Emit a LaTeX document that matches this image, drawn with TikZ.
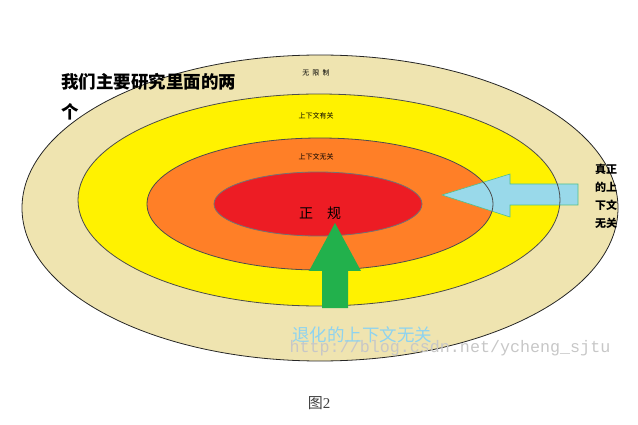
\documentclass[tikz,border=0pt]{standalone}
\usepackage{fontspec}
\setmainfont{Liberation Serif}
\newfontfamily\cjk{Noto Sans CJK SC}
\newfontfamily\wmfont{Liberation Mono}
\usetikzlibrary{calc}
\definecolor{beige}{HTML}{EFE4B0}
\definecolor{ringyellow}{HTML}{FFF200}
\definecolor{ringorange}{HTML}{FF7F27}
\definecolor{ringred}{HTML}{ED1C24}
\definecolor{arrowgreen}{HTML}{22B14C}
\definecolor{arrowblue}{HTML}{99D9EA}
\definecolor{textblue}{HTML}{8ED3F0}
\tikzset{
  ring/.style={draw=black!70, line width=0.8pt},
  ringlabel/.style={font=\cjk\fontsize{7}{8}\selectfont, inner sep=0pt},
}

\begin{document}
\begin{tikzpicture}[x=1pt,y=-1pt]
  \useasboundingbox (0,0) rectangle (638,425);
  \coordinate (c) at (320,208);

  % fills of the four rings
  \fill[beige] (320,208) ellipse (298pt and 153pt);
  \fill[ringyellow] (319,200) ellipse (241pt and 106pt);
  \fill[ringorange] (320,204) ellipse (173pt and 66pt);
  \fill[ringred] (318,204) ellipse (104pt and 32pt);

  % arrow from the right
  \draw[fill=arrowblue, draw=arrowgreen!60!arrowblue, line width=0.6pt]
    (442,195) -- (510,174) -- (510,184) -- (578,184) -- (578,205)
    -- (510,205) -- (510,217) -- cycle;

  \draw[ring, draw=black!85] (320,208) ellipse (298pt and 153pt);
  \draw[ring] (319,200) ellipse (241pt and 106pt);
  \draw[ring] (320,204) ellipse (173pt and 66pt);
  \draw[ring, draw=black!55] (318,204) ellipse (104pt and 32pt);

  % arrow from below
  \fill[arrowgreen] (335,223) -- (361,271) -- (348,271) -- (348,308)
    -- (322,308) -- (322,271) -- (309,271) -- cycle;

  \node[ringlabel] (wxz) at (316,73) {无\ \ 限\ \ 制};
  \node[ringlabel] (cs) at (316,116) {上下文有关};
  \node[ringlabel] (cf) at (316,157) {上下文无关};
  \node[font=\cjk\fontsize{14}{14}\selectfont, inner sep=0pt] (zg) at (320,213) {正\quad 规};

  \node[anchor=west, inner sep=0pt, font=\cjk\bfseries\fontsize{17.5}{18}\selectfont] (title) at (61,82) {我们主要研究里面的两};
  \node[anchor=west, inner sep=0pt, font=\cjk\bfseries\fontsize{17.5}{18}\selectfont] (ge) at (61,112) {个};

  \node[anchor=north west, inner sep=0pt, align=left, font=\cjk\bfseries\fontsize{11}{18}\selectfont] (zz) at (595,164) {真正\\的上\\下文\\无关};

  \node[font=\wmfont\fontsize{16.7}{17}\selectfont, text=black!22, inner sep=0pt] (wm) at (450,348) {http://blog.csdn.net/ycheng\_sjtu};
  \node[font=\cjk\fontsize{17.5}{18}\selectfont, text=textblue, inner sep=0pt] (tuihua) at (362,335) {退化的上下文无关};

  \node[font=\fontsize{15}{16}\selectfont, text=black!75, inner sep=0pt] (fig) at (319,403) {{\cjk 图}2};
\end{tikzpicture}
\end{document}
